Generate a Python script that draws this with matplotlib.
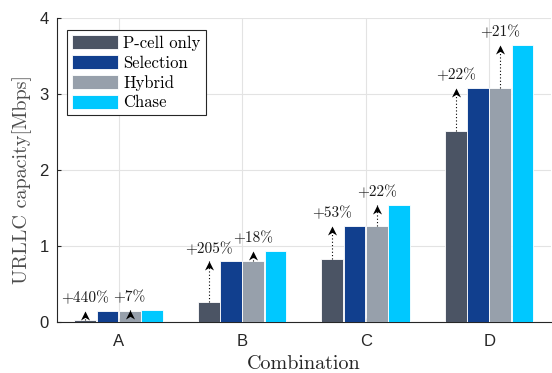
import matplotlib
matplotlib.use("Agg")
import matplotlib.pyplot as plt
import numpy as np
from matplotlib.path import Path

categories = ["A", "B", "C", "D"]
series_names = ["P-cell only", "Selection", "Hybrid", "Chase"]
pcell = [0.027, 0.263, 0.825, 2.515]
selection = [0.145, 0.795, 1.263, 3.075]
hybrid = [0.145, 0.795, 1.263, 3.075]
chase = [0.155, 0.935, 1.544, 3.645]
gain_sel = ["+440%", "+205%", "+53%", "+22%"]
gain_chase = ["+7%", "+18%", "+22%", "+21%"]
yticks = [0, 1, 2, 3, 4]

colors = ["#4b5464", "#113f8e", "#97a0ab", "#00c8ff"]
CM = "cmr10"
SANS = "Liberation Sans"

fig = plt.figure(figsize=(5.52, 3.73), dpi=100)
ax = fig.add_axes([0.103, 0.137, 0.895, 0.815])

x = np.arange(1, len(categories) + 1)
offsets = [-0.27, -0.09, 0.09, 0.27]
width = 0.175
data = [pcell, selection, hybrid, chase]
for vals, off, c, name in zip(data, offsets, colors, series_names):
    ax.bar(x + off, vals, width, color=c, edgecolor="white", linewidth=0.6,
           label=name, zorder=3)

vback = Path([(0, 0), (-0.5, -1), (0, -0.7), (0.5, -1), (0, 0)],
             [Path.MOVETO, Path.LINETO, Path.LINETO, Path.LINETO, Path.CLOSEPOLY])

def arrow(xp, y0, y1, label):
    ax.plot([xp, xp], [y0, y1], linestyle=(0, (1, 2)), color="k", lw=0.8, zorder=4)
    ax.plot([xp], [y1], marker=vback, markersize=13, color="k", zorder=5,
            markeredgewidth=0)
    ax.annotate(label, xy=(xp, y1), xytext=(0, 4), textcoords="offset points",
                ha="center", va="bottom", fontsize=11, family=CM, zorder=6,
                color="#1a1a1a")

for i in range(len(categories)):
    arrow(x[i] + offsets[0], pcell[i], selection[i], gain_sel[i])
    arrow(x[i] + offsets[2], hybrid[i], chase[i], gain_chase[i])

ax.set_xlim(0.5, 4.5)
ax.set_ylim(0, 4)
ax.set_xticks(x)
ax.set_xticklabels(categories)
ax.set_yticks(yticks)
ax.tick_params(axis="both", direction="in", length=3, labelsize=12,
               colors="#262626")
ax.tick_params(axis="y", pad=6)
ax.tick_params(axis="x", pad=9)
for lab in ax.get_xticklabels() + ax.get_yticklabels():
    lab.set_family(SANS)
ax.grid(True, color="#e3e3e3", linewidth=0.8, zorder=0)
ax.set_axisbelow(True)
for s in ["top", "right"]:
    ax.spines[s].set_visible(False)
for s in ["left", "bottom"]:
    ax.spines[s].set_color("#262626")
    ax.spines[s].set_linewidth(0.8)

ax.set_xlabel("Combination", family=CM, fontsize=14.5, color="#262626", labelpad=4)
ax.set_ylabel("URLLC capacity[Mbps]", family=CM, fontsize=14.5, color="#4d4d4d")
ax.yaxis.set_label_coords(-0.05, 0.467)

leg = ax.legend(loc="upper left", bbox_to_anchor=(0.02, 0.96), prop={"family": CM, "size": 12},
                fancybox=False, framealpha=1, edgecolor="#262626",
                handlelength=2.8, handleheight=0.9, labelspacing=0.25,
                handletextpad=0.3, borderpad=0.3, borderaxespad=0)
leg.get_frame().set_linewidth(0.8)

fig.savefig("out.png", dpi=100)
